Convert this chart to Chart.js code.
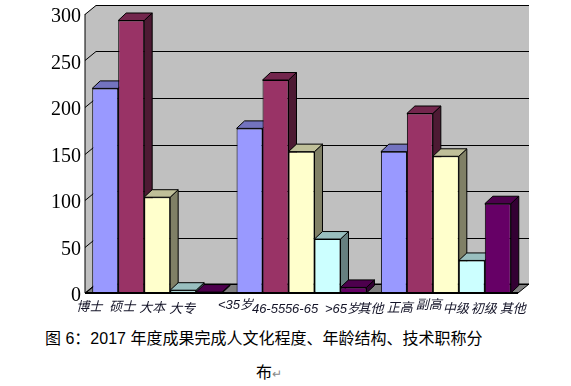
<!DOCTYPE html>
<html>
<head>
<meta charset="utf-8">
<script src="https://cdn.jsdelivr.net/npm/chart.js@4"></script>
<style>
  html, body { margin: 0; padding: 0; background: #fff; }
  #wrap { position: relative; width: 571px; height: 386px; overflow: hidden; }
  #chart { position: absolute; left: 0; top: 0; }
  .caption { position: absolute; white-space: nowrap; color: #000; font: 16px/20px "Liberation Sans", "Noto Sans CJK SC", sans-serif; }
  .caption span { color: #888; font-size: 12px; }
</style>
</head>
<body>
<div id="wrap">
  <canvas id="chart" width="571" height="320"></canvas>
  <div class="caption" style="left:45px;top:329px">图 6：2017 年度成果完成人文化程度、年龄结构、技术职称分</div>
  <div class="caption" style="left:256px;top:363px">布<span>↵</span></div>
</div>
<script>
var groups = ['文化程度', '年龄结构', '技术职称'];
var bar1 = [220, 177, 152];
var bar2 = [293, 229, 193];
var bar3 = [103, 152, 147];
var bar4 = [3, 58, 35];
var bar5 = [1, 6, 96];
var yTicks = [0, 50, 100, 150, 200, 250, 300];

// words under the bars, one list per group
var barLabels = [
  ['博士', '硕士', '大本', '大专', null],
  ['<35岁', '46-55', '56-65', '>65岁', '其他'],
  ['正高', '副高', '中级', '初级', '其他']
];
// they do not sit right under the bars in the picture
var labelShift = [
  [-16, -9, -5, -1, 0],
  [-14, -7, 0, 15, 17],
  [6, 9, 10, 12, 15]
];
var labelDrop = [
  [14, 14, 15, 16, 0],
  [12, 16, 16, 16, 16],
  [15, 12, 16, 16, 16]
];

var fronts = ['#9999FF', '#993366', '#FFFFCC', '#CCFFFF', '#660066'];
var tops = ['#7373BF', '#73264D', '#BFBF99', '#99BFBF', '#4D004D'];
var sides = ['#4D4D80', '#4D1A33', '#808066', '#668080', '#330033'];

var WALL_DX = 11, WALL_DY = 9;
var BAR_DX = 8, BAR_DY = 7.5;

function poly(c, pts, fill, stroke) {
  c.beginPath();
  c.moveTo(pts[0][0], pts[0][1]);
  for (var i = 1; i < pts.length; i++) c.lineTo(pts[i][0], pts[i][1]);
  c.closePath();
  if (fill) { c.fillStyle = fill; c.fill(); }
  if (stroke) { c.strokeStyle = stroke; c.lineWidth = 1; c.stroke(); }
}

var box3d = {
  id: 'box3d',
  beforeDatasetsDraw: function (chart) {
    var c = chart.ctx, a = chart.chartArea, y = chart.scales.y;
    c.save();
    // back and left wall
    poly(c, [[a.left, a.top], [a.left + WALL_DX, a.top - WALL_DY], [a.right + WALL_DX, a.top - WALL_DY],
      [a.right + WALL_DX, a.bottom - WALL_DY], [a.left, a.bottom]], '#C0C0C0');
    // floor
    poly(c, [[a.left, a.bottom], [a.left + WALL_DX, a.bottom - WALL_DY],
      [a.right + WALL_DX, a.bottom - WALL_DY], [a.right, a.bottom]], '#808080', '#000');
    // grid lines, running over the left wall and along the back
    c.strokeStyle = '#000';
    c.lineWidth = 1;
    yTicks.forEach(function (t) {
      var py = Math.round(y.getPixelForValue(t)) + 0.5;
      c.beginPath();
      c.moveTo(a.left, py);
      c.lineTo(a.left + WALL_DX, py - WALL_DY);
      c.lineTo(a.right + WALL_DX, py - WALL_DY);
      c.stroke();
    });
    // left to right so each bar covers the side of the one before
    chart.data.datasets.forEach(function (ds, i) {
      var meta = chart.getDatasetMeta(i);
      meta.data.forEach(function (bar) {
        var l = bar.x - bar.width / 2, r = bar.x + bar.width / 2;
        poly(c, [[r, bar.y], [r + BAR_DX, bar.y - BAR_DY], [r + BAR_DX, bar.base - BAR_DY], [r, bar.base]], sides[i], '#000');
        poly(c, [[l, bar.y], [l + BAR_DX, bar.y - BAR_DY], [r + BAR_DX, bar.y - BAR_DY], [r, bar.y]], tops[i], '#000');
      });
      meta.controller.draw();
    });
    c.restore();
  },
  beforeDatasetDraw: function () {
    return false;
  },
  afterDatasetsDraw: function (chart) {
    var c = chart.ctx, a = chart.chartArea;
    c.save();
    c.strokeStyle = '#000';
    c.lineWidth = 1;
    c.beginPath();
    c.moveTo(a.left, a.top);
    c.lineTo(a.left, a.bottom);
    c.stroke();
    c.lineWidth = 2;
    c.beginPath();
    c.moveTo(a.left, a.bottom);
    c.lineTo(a.right, a.bottom);
    c.stroke();
    // words under the bars
    c.fillStyle = '#141428';
    c.font = 'italic 13px "Liberation Sans", "Noto Sans CJK SC", sans-serif';
    c.textAlign = 'center';
    c.textBaseline = 'middle';
    barLabels.forEach(function (words, g) {
      words.forEach(function (w, i) {
        if (!w) return;
        var bar = chart.getDatasetMeta(i).data[g];
        c.fillText(w, bar.x + labelShift[g][i], a.bottom + labelDrop[g][i]);
      });
    });
    c.restore();
  }
};

function makeSet(name, values, i) {
  return {
    label: name,
    data: values,
    backgroundColor: fronts[i],
    borderColor: '#000',
    borderWidth: 1,
    borderSkipped: false,
    barPercentage: 1,
    categoryPercentage: 0.9
  };
}

new Chart(document.getElementById('chart').getContext('2d'), {
  type: 'bar',
  data: {
    labels: groups,
    datasets: [
      makeSet('1', bar1, 0),
      makeSet('2', bar2, 1),
      makeSet('3', bar3, 2),
      makeSet('4', bar4, 3),
      makeSet('5', bar5, 4)
    ]
  },
  options: {
    responsive: false,
    animation: false,
    events: [],
    layout: { padding: { top: 14, right: 53, bottom: 27, left: 0 } },
    plugins: { legend: { display: false }, tooltip: { enabled: false } },
    scales: {
      x: {
        grid: { display: false },
        border: { display: false },
        ticks: { display: false },
        afterFit: function (s) { s.height = 0; }
      },
      y: {
        min: 0,
        max: 300,
        grid: { display: false, drawTicks: false },
        border: { display: false },
        // the tick labels may stick out above the plot, as in the picture
        afterFit: function (s) { s.width = 85; s.paddingTop = 0; s.paddingBottom = 0; },
        ticks: {
          stepSize: 50,
          padding: 4,
          labelOffset: 3,
          color: '#000',
          font: { family: '"Liberation Serif"', size: 20 }
        }
      }
    }
  },
  plugins: [box3d]
});
</script>
</body>
</html>
